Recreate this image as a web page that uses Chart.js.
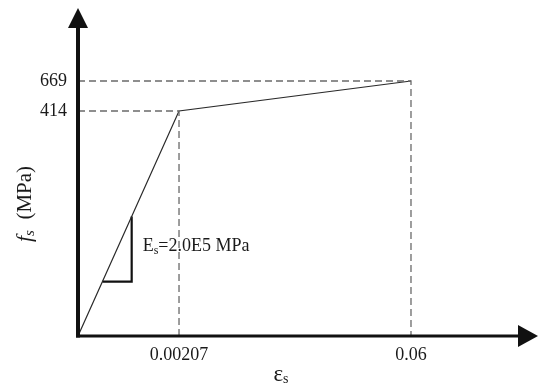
<!DOCTYPE html>
<html>
<head>
<meta charset="utf-8">
<script src="https://cdn.jsdelivr.net/npm/chart.js@4/dist/chart.umd.min.js"></script>
<style>
  html, body { margin: 0; padding: 0; background: #fff; }
</style>
</head>
<body>
<canvas id="c" width="540" height="385"></canvas>
<script>
// Bilinear stress-strain model for reinforcing steel
const strain = [0, 0.00207, 0.06];      // εs
const stress = [0, 414, 669];           // fs (MPa)
const strainTicks = [0.00207, 0.06];
const stressTicks = [414, 669];
const elasticModulus = 2.0e5;           // MPa
const slopeLegStrain = [0.0005, 0.0011]; // corners of the slope triangle
const modulusText = '=2.0E5 MPa';

// The diagram is schematic: each axis is drawn piecewise-linear between its
// labelled values, so the short elastic branch still gets a readable width.
const axisStops = {
  x: { values: [0, strainTicks[0], strainTicks[1], 0.075], at: [0, 0.2196, 0.7239, 1] },
  y: { values: [0, stressTicks[0], stressTicks[1], 860],  at: [0, 0.686, 0.7774, 1] }
};

class PiecewiseScale extends Chart.LinearScale {
  _toDecimal(v) {
    const { values, at } = axisStops[this.id];
    if (v <= values[0]) return at[0];
    for (let i = 1; i < values.length; i++) {
      if (v <= values[i]) {
        const t = (v - values[i - 1]) / (values[i] - values[i - 1]);
        return at[i - 1] + t * (at[i] - at[i - 1]);
      }
    }
    return at[at.length - 1];
  }
  _fromDecimal(d) {
    const { values, at } = axisStops[this.id];
    for (let i = 1; i < at.length; i++) {
      if (d <= at[i]) {
        const t = (d - at[i - 1]) / (at[i] - at[i - 1]);
        return values[i - 1] + t * (values[i] - values[i - 1]);
      }
    }
    return values[values.length - 1];
  }
  getPixelForValue(v) { return this.getPixelForDecimal(this._toDecimal(v)); }
  getValueForPixel(p) { return this._fromDecimal(this.getDecimalForPixel(p)); }
}
PiecewiseScale.id = 'piecewise';
PiecewiseScale.defaults = Chart.LinearScale.defaults;
Chart.register(PiecewiseScale);

const SERIF = "'Liberation Serif', 'Times New Roman', serif";

// Draws a run of text pieces (used for subscripts) starting at x
function drawRuns(ctx, runs, x, y) {
  let cx = x;
  runs.forEach(r => {
    ctx.font = r.font;
    ctx.fillText(r.text, cx, y + (r.dy || 0));
    cx += ctx.measureText(r.text).width;
  });
  return cx - x;
}
function runsWidth(ctx, runs) {
  let w = 0;
  runs.forEach(r => { ctx.font = r.font; w += ctx.measureText(r.text).width; });
  return w;
}

const axesAndLabels = {
  id: 'axesAndLabels',
  afterDatasetsDraw(chart) {
    const { ctx, chartArea: a, scales: { x, y } } = chart;
    const ox = x.getPixelForValue(0);
    const oy = y.getPixelForValue(0);
    ctx.save();
    ctx.fillStyle = '#111';
    ctx.strokeStyle = '#111';
    ctx.lineCap = 'butt';

    // vertical axis with arrow
    ctx.lineWidth = 4;
    ctx.beginPath();
    ctx.moveTo(ox, oy + 1.5);
    ctx.lineTo(ox, a.top + 18);
    ctx.stroke();
    ctx.beginPath();
    ctx.moveTo(ox, a.top);
    ctx.lineTo(ox - 10, a.top + 20);
    ctx.lineTo(ox + 10, a.top + 20);
    ctx.closePath();
    ctx.fill();

    // horizontal axis with arrow
    ctx.lineWidth = 3;
    ctx.beginPath();
    ctx.moveTo(ox - 2, oy);
    ctx.lineTo(a.right - 18, oy);
    ctx.stroke();
    ctx.beginPath();
    ctx.moveTo(a.right, oy);
    ctx.lineTo(a.right - 20, oy - 11);
    ctx.lineTo(a.right - 20, oy + 11);
    ctx.closePath();
    ctx.fill();

    // modulus annotation beside the slope triangle
    ctx.fillStyle = '#1a1a1a';
    ctx.textBaseline = 'middle';
    ctx.textAlign = 'left';
    const legX = x.getPixelForValue(slopeLegStrain[1]);
    const legMid = (y.getPixelForValue(elasticModulus * slopeLegStrain[0]) +
                    y.getPixelForValue(elasticModulus * slopeLegStrain[1])) / 2;
    drawRuns(ctx, [
      { text: 'E', font: `18px ${SERIF}` },
      { text: 's', font: `12px ${SERIF}`, dy: 5 },
      { text: modulusText, font: `18px ${SERIF}` }
    ], legX + 11, legMid - 3);

    // horizontal axis title: εs
    const xt = [
      { text: 'ε', font: `23px ${SERIF}` },
      { text: 's', font: `14px ${SERIF}`, dy: 4 }
    ];
    drawRuns(ctx, xt, 281 - runsWidth(ctx, xt) / 2, 375);

    // vertical axis title: fs (MPa)
    const yt = [
      { text: 'f', font: `italic 22px ${SERIF}` },
      { text: 's', font: `italic 15px ${SERIF}`, dy: 5 },
      { text: '  (MPa)', font: `21px ${SERIF}` }
    ];
    ctx.translate(25, 204);
    ctx.rotate(-Math.PI / 2);
    drawRuns(ctx, yt, -runsWidth(ctx, yt) / 2, 0);
    ctx.restore();
  }
};

const pts = (xs, ys) => xs.map((v, i) => ({ x: v, y: ys[i] }));
const guideStyle = {
  borderColor: '#6a6a6a', borderWidth: 1.3, borderDash: [7, 4],
  pointRadius: 0, fill: false, tension: 0
};

new Chart(document.getElementById('c'), {
  type: 'line',
  data: {
    datasets: [
      // dashed projections of the yield and ultimate points
      Object.assign({ data: pts([0, strain[1], strain[1]], [stress[1], stress[1], 0]) }, guideStyle),
      Object.assign({ data: pts([0, strain[2], strain[2]], [stress[2], stress[2], 0]) }, guideStyle),
      // the stress-strain curve
      {
        data: pts(strain, stress),
        borderColor: '#2a2a2a', borderWidth: 1.2, pointRadius: 0, tension: 0, fill: false
      },
      // slope triangle for Es
      {
        data: pts([slopeLegStrain[0], slopeLegStrain[1], slopeLegStrain[1]],
                  [elasticModulus * slopeLegStrain[0], elasticModulus * slopeLegStrain[0],
                   elasticModulus * slopeLegStrain[1]]),
        borderColor: '#111', borderWidth: 2.2, pointRadius: 0, tension: 0, fill: false
      }
    ]
  },
  options: {
    responsive: false,
    animation: false,
    layout: { padding: { top: 8, right: 2, left: 0, bottom: 0 } },
    plugins: { legend: { display: false }, tooltip: { enabled: false } },
    scales: {
      x: {
        type: 'piecewise',
        min: 0, max: axisStops.x.values[3],
        grid: { display: false, drawTicks: false },
        border: { display: false },
        afterBuildTicks: s => { s.ticks = strainTicks.map(v => ({ value: v })); },
        afterFit: s => { s.height = 49; s.paddingLeft = 0; s.paddingRight = 0; },
        ticks: {
          padding: 8, color: '#1a1a1a', maxRotation: 0, autoSkip: false,
          font: { family: SERIF, size: 18 },
          callback: v => String(v)
        }
      },
      y: {
        type: 'piecewise',
        min: 0, max: axisStops.y.values[3],
        grid: { display: false, drawTicks: false },
        border: { display: false },
        afterBuildTicks: s => { s.ticks = stressTicks.map(v => ({ value: v })); },
        afterFit: s => { s.width = 78; s.paddingTop = 0; s.paddingBottom = 0; },
        ticks: {
          padding: 11, color: '#1a1a1a', autoSkip: false,
          font: { family: SERIF, size: 18 },
          callback: v => String(v)
        }
      }
    }
  },
  plugins: [axesAndLabels]
});
</script>
</body>
</html>
